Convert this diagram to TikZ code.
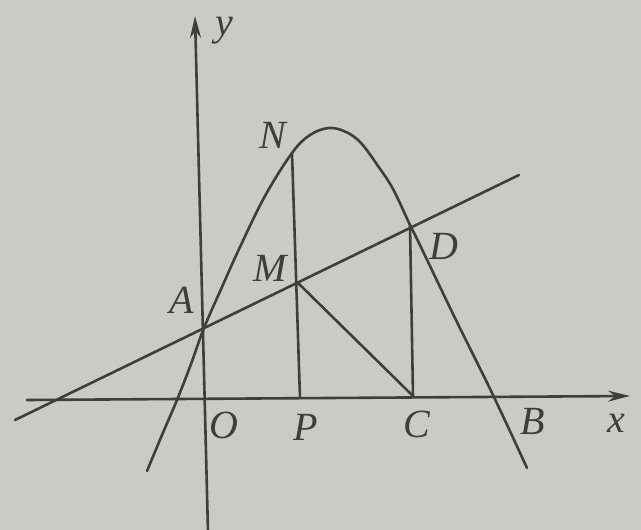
\documentclass[tikz,border=0pt]{standalone}
\usepackage{fontspec}
\setmainfont{Liberation Serif}
\usetikzlibrary{arrows.meta}
\definecolor{paper}{RGB}{203,203,198}
\definecolor{ink}{RGB}{62,62,60}
\tikzset{
  geo/.style={draw=ink, line width=2.6pt, line cap=round, line join=round},
  lbl/.style={text=ink, font=\fontsize{40}{44}\selectfont\itshape, inner sep=0pt},
  axisarrow/.style={geo, -{Stealth[length=22pt,width=11pt]}}
}
\begin{document}
\begin{tikzpicture}[x=1pt,y=-1pt]
\fill[paper] (0,0) rectangle (641,530);
\useasboundingbox (0,0) rectangle (641,530);
% axis ends
\coordinate (xL) at (27,400);
\coordinate (xR) at (630,396);
\coordinate (yB) at (208,532);
\coordinate (yT) at (195,16);
% points
\coordinate (A) at (204,328);
\coordinate (N) at (292,153);
\coordinate (M) at (297,282);
\coordinate (P) at (300,398);
\coordinate (D) at (410,225);
\coordinate (C) at (413,396);
\coordinate (lL) at (15,420);
\coordinate (lR) at (519,175);
% axes
\draw[axisarrow] (xL) -- (xR);
\draw[axisarrow] (yB) -- (yT);
% parabola
\draw[geo] plot[smooth, tension=0.6] coordinates {
 (147,471) (162,435) (177,400) (191,364) (204,328) (222,287) (240,247)
 (265,196) (292,153) (310,135) (329,128) (346,132) (361,143) (378,166)
 (393,189) (410,225) (418,241) (455,318) (493,395) (527,468)};
% line AD
\draw[geo] (lL) -- (lR);
% segments
\draw[geo] (N) -- (P);
\draw[geo] (D) -- (C);
\draw[geo] (M) -- (C);
% labels
\node[lbl] (yl) at (224,31) {y};
\node[lbl] (xl) at (616,423) {x};
\node[lbl] (Ol) at (224,425) {O};
\node[lbl] (Pl) at (306,427) {P};
\node[lbl] (Cl) at (417,424) {C};
\node[lbl] (Bl) at (533,421) {B};
\node[lbl] (Al) at (182,300) {A};
\node[lbl] (Ml) at (270,268) {M};
\node[lbl] (Nl) at (273,135) {N};
\node[lbl] (Dl) at (444,246) {D};
\end{tikzpicture}
\end{document}
